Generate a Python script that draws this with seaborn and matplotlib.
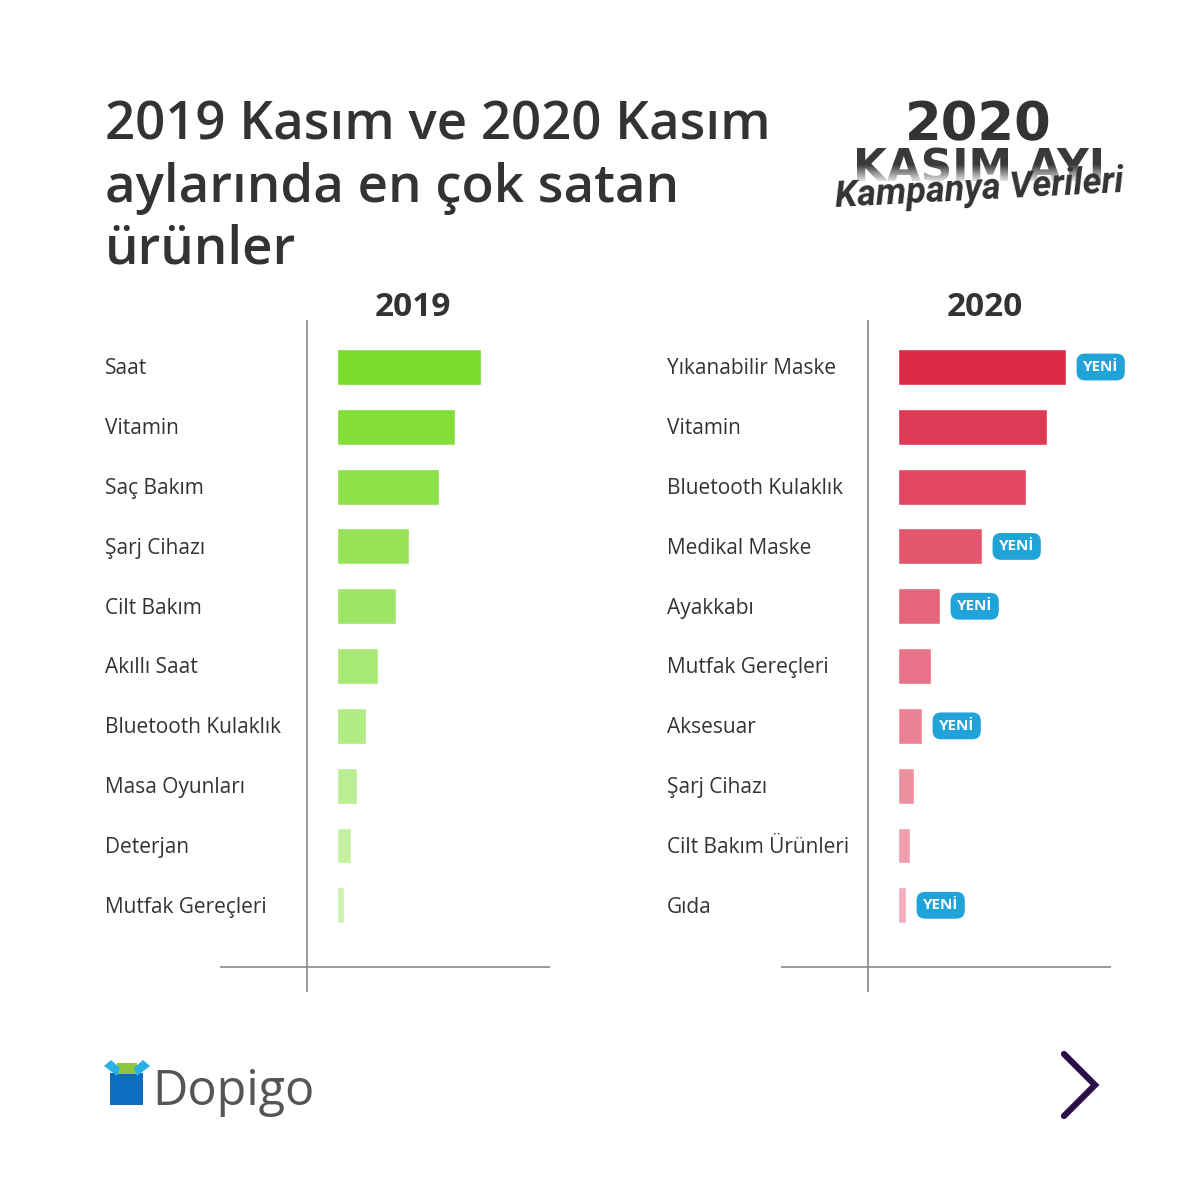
import matplotlib
matplotlib.use("Agg")
import matplotlib.pyplot as plt
import matplotlib.transforms as mtransforms
from matplotlib.patches import Rectangle, Polygon
from matplotlib.lines import Line2D
import seaborn as sns
import pandas as pd
import numpy as np

# ---------------- data ----------------
products_2019 = ["Saat", "Vitamin", "Saç Bakım", "Şarj Cihazı", "Cilt Bakım",
                 "Akıllı Saat", "Bluetooth Kulaklık", "Masa Oyunları", "Deterjan",
                 "Mutfak Gereçleri"]
values_2019 = [144, 118, 102, 72, 59, 41, 29, 20, 14, 7]

products_2020 = ["Yıkanabilir Maske", "Vitamin", "Bluetooth Kulaklık", "Medikal Maske",
                 "Ayakkabı", "Mutfak Gereçleri", "Aksesuar", "Şarj Cihazı",
                 "Cilt Bakım Ürünleri", "Gıda"]
values_2020 = [168, 149, 128, 84, 42, 33, 24, 16, 12, 8]
new_2020 = [True, False, False, True, True, False, True, False, False, True]

title_lines = ["2019 Kasım ve 2020 Kasım", "aylarında en çok satan", "ürünler"]
year_labels = ["2019", "2020"]
badge_text = "YENİ"

# ---------------- style ----------------
sns.set_theme(style="white")
plt.rcParams["font.family"] = ["Open Sans", "DejaVu Sans"]

W = H = 1200
fig = plt.figure(figsize=(12, 12), dpi=100)
fig.patch.set_facecolor("white")

def fx(px):
    return px / W

def fy(py):
    return 1 - py / H

def blend(c1, c2, n):
    c1 = np.array(matplotlib.colors.to_rgb(c1))
    c2 = np.array(matplotlib.colors.to_rgb(c2))
    return [tuple(c1 + (c2 - c1) * t) for t in np.linspace(0, 1, n)]

greens = blend("#7ADC2A", "#CDF2B0", 10)
reds = blend("#DC2A48", "#F2AEBB", 10)

TXT = "#333333"
AXC = "#8a8a8a"

panels = [
    dict(left=220, names=products_2019, vals=values_2019, cols=greens,
         year=year_labels[0], label_x=105, new=[False] * 10, yx=76),
    dict(left=781, names=products_2020, vals=values_2020, cols=reds,
         year=year_labels[1], label_x=667, new=new_2020, yx=87),
]

for p in panels:
    ax = fig.add_axes([fx(p["left"]), fy(992), 330 / W, 672 / H])
    df = pd.DataFrame({"product": p["names"], "value": p["vals"]})
    sns.barplot(data=df, x="value", y="product", hue="product", palette=p["cols"],
                orient="h", width=0.6, saturation=1, legend=False, ax=ax)
    ax.set_xlim(-117, 213)
    ax.set_ylim(10.45, -0.786)
    for s in ax.spines.values():
        s.set_visible(False)
    ax.set_xticks([])
    ax.set_yticks([])
    ax.set_xlabel("")
    ax.set_ylabel("")
    ax.set_facecolor("none")
    ax.axvline(-30, color=AXC, lw=1.2)
    ax.axhline(10.03, color=AXC, lw=1.2)
    tr = mtransforms.blended_transform_factory(fig.transFigure, ax.transData)
    for i, (name, v, isnew) in enumerate(zip(p["names"], p["vals"], p["new"])):
        ax.text(fx(p["label_x"]), i + 0.03, name, transform=tr, ha="left", va="center",
                fontsize=15, fontweight="medium", color=TXT)
        if isnew:
            ax.text(v + 17, i, badge_text, ha="left", va="center", fontsize=11,
                    fontweight="bold", color="white",
                    bbox=dict(boxstyle="round,pad=0.42,rounding_size=0.55",
                              fc="#1FA3D8", ec="none"))
    ax.text(p["yx"], -1.0, p["year"], ha="center", va="center", fontsize=24,
            fontweight="bold", color=TXT)

# title
for k, line in enumerate(title_lines):
    fig.text(fx(105), fy(140 + 62 * k), line, ha="left", va="baseline",
             fontsize=38, fontweight="semibold", color="#333333")

# campaign logo
fig.text(fx(978), fy(140), "2020", ha="center", va="baseline", fontsize=38,
         fontweight="heavy", color="#333333", family=["DejaVu Sans"], zorder=3)
fig.text(fx(979), fy(181), "KASIM AYI", ha="center", va="baseline", fontsize=31.5,
         fontweight="heavy", color="#3a3a3a", family=["DejaVu Sans"], zorder=3)
# fade of the lower part of "KASIM AYI"
fade_ax = fig.add_axes([fx(840), fy(184), 280 / W, 20 / H], zorder=3.5)
grad = np.zeros((20, 2, 4))
grad[..., :3] = 1.0
grad[..., 3] = np.linspace(0, 1, 20)[:, None]
fade_ax.imshow(grad, aspect="auto", extent=(0, 1, 0, 1), origin="upper")
fade_ax.axis("off")
fig.text(fx(979), fy(207), "Kampanya Verileri", ha="center", va="baseline",
         fontsize=26, style="italic", fontweight="bold", color="#333333",
         rotation=3, family=["Roboto", "DejaVu Sans"], zorder=4)

# Dopigo logo
fig.patches.append(Rectangle((fx(110), fy(1105)), 33 / W, 32 / H, transform=fig.transFigure,
                             fc="#0F6DBF", ec="none"))
fig.patches.append(Rectangle((fx(117), fy(1074)), 20 / W, 11 / H, transform=fig.transFigure,
                             fc="#8DC63F", ec="none"))
fig.patches.append(Polygon([(fx(104), fy(1066)), (fx(111), fy(1060)), (fx(120), fy(1068)),
                            (fx(117), fy(1076))], closed=True, transform=fig.transFigure,
                           fc="#2BB0E6", ec="none"))
fig.patches.append(Polygon([(fx(150), fy(1066)), (fx(143), fy(1060)), (fx(134), fy(1068)),
                            (fx(137), fy(1076))], closed=True, transform=fig.transFigure,
                           fc="#2BB0E6", ec="none"))
fig.text(fx(152), fy(1105), "Dopigo", ha="left", va="baseline", fontsize=35,
         color="#555555")

# next arrow
fig.lines.append(Line2D([fx(1064), fx(1095), fx(1064)], [fy(1054), fy(1085), fy(1116)],
                        transform=fig.transFigure, color="#2B0E4A", lw=4.5,
                        solid_capstyle="round", solid_joinstyle="miter"))

fig.savefig("out.png", dpi=100, facecolor="white")
